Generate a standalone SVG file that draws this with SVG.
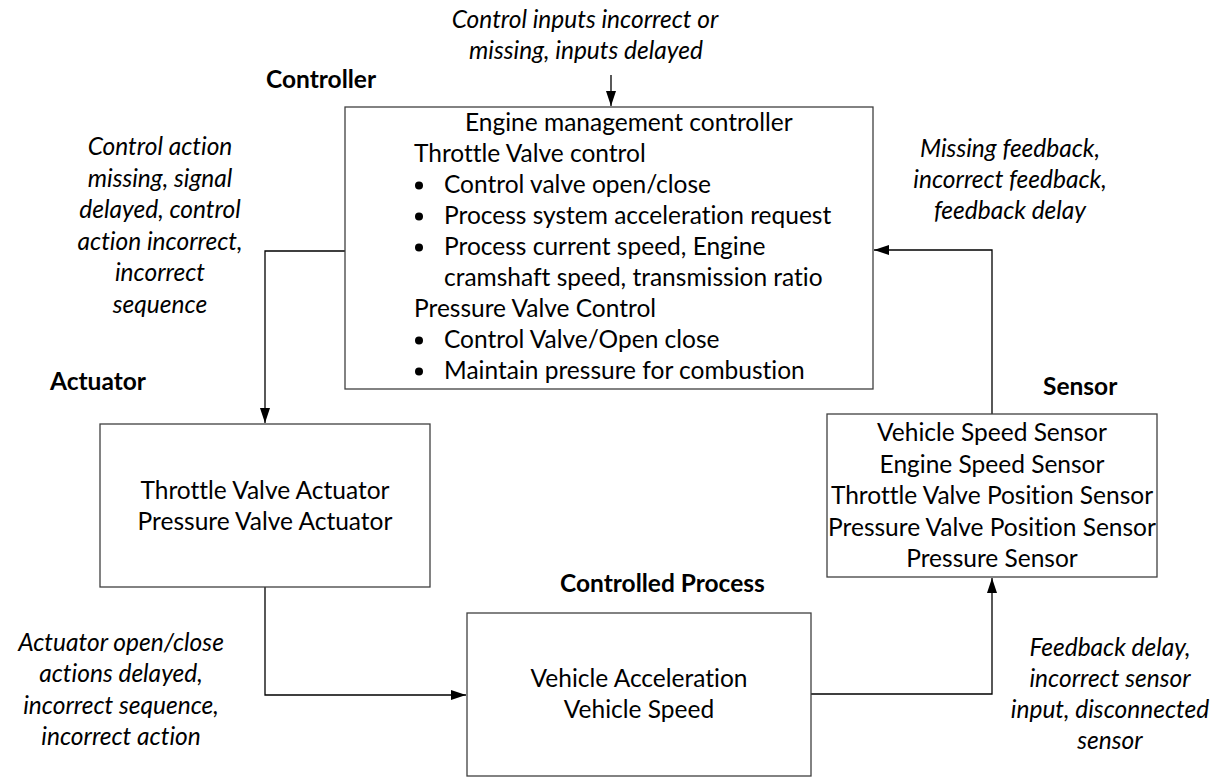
<svg xmlns="http://www.w3.org/2000/svg" width="1217" height="777" viewBox="0 0 1217 777">
<style>
text{font-family:Lato,"Liberation Sans",sans-serif;font-size:24.5px;fill:#000;font-variant-ligatures:none}
.b{font-weight:bold}
.i{font-style:italic}
.m{text-anchor:middle}
.box{fill:#fff;stroke:#404040;stroke-width:1.3}
.con{fill:none;stroke:#000;stroke-width:1.3}
.bul{fill:#000}
</style>
<defs>
<marker id="ah" markerUnits="userSpaceOnUse" markerWidth="16" markerHeight="11" refX="15" refY="5" orient="auto">
<path d="M0,0 L15,5 L0,10 z" fill="#000"/>
</marker>
</defs>
<rect width="1217" height="777" fill="#fff"/>

<g id="connectors">
<path class="con" d="M611,75 V106" marker-end="url(#ah)"/>
<path class="con" d="M345,251 H265 V423" marker-end="url(#ah)"/>
<path class="con" d="M265,587 V695 H466" marker-end="url(#ah)"/>
<path class="con" d="M811,694 H992 V578" marker-end="url(#ah)"/>
<path class="con" d="M992,414 V250 H874" marker-end="url(#ah)"/>
</g>

<g id="labels">
<text class="i m" x="585" y="28">Control inputs incorrect or</text>
<text class="i m" x="586" y="59">missing, inputs delayed</text>
<text class="i m" x="160" y="155">Control action</text>
<text class="i m" x="160" y="186.6">missing, signal</text>
<text class="i m" x="160" y="218.2">delayed, control</text>
<text class="i m" x="160" y="249.8">action incorrect,</text>
<text class="i m" x="160" y="281.4">incorrect</text>
<text class="i m" x="160" y="313">sequence</text>
<text class="i m" x="1010" y="157">Missing feedback,</text>
<text class="i m" x="1010" y="188">incorrect feedback,</text>
<text class="i m" x="1010" y="219">feedback delay</text>
<text class="i m" x="121" y="650.5">Actuator open/close</text>
<text class="i m" x="121" y="682">actions delayed,</text>
<text class="i m" x="121" y="713.5">incorrect sequence,</text>
<text class="i m" x="121" y="745">incorrect action</text>
<text class="i m" x="1110" y="655.5">Feedback delay,</text>
<text class="i m" x="1110" y="686.5">incorrect sensor</text>
<text class="i m" x="1110" y="717.5">input, disconnected</text>
<text class="i m" x="1110" y="748.5">sensor</text>
</g>

<g id="controller">
<text class="b" x="266" y="88">Controller</text>
<rect class="box" x="345" y="107" width="528" height="282"/>
<text x="465" y="131">Engine management controller</text>
<text x="414" y="162">Throttle Valve control</text>
<circle class="bul" cx="419" cy="185.5" r="4"/>
<text x="444" y="193">Control valve open/close</text>
<circle class="bul" cx="419" cy="216.5" r="4"/>
<text x="444" y="224">Process system acceleration request</text>
<circle class="bul" cx="419" cy="247.5" r="4"/>
<text x="444" y="255">Process current speed, Engine</text>
<text x="444" y="286">cramshaft speed, transmission ratio</text>
<text x="414" y="317">Pressure Valve Control</text>
<circle class="bul" cx="419" cy="340.5" r="4"/>
<text x="444" y="348">Control Valve/Open close</text>
<circle class="bul" cx="419" cy="371.5" r="4"/>
<text x="444" y="379">Maintain pressure for combustion</text>
</g>

<g id="actuator">
<text class="b" x="50" y="390">Actuator</text>
<rect class="box" x="100" y="424" width="330" height="163"/>
<text class="m" x="265" y="499">Throttle Valve Actuator</text>
<text class="m" x="265" y="530">Pressure Valve Actuator</text>
</g>

<g id="process">
<text class="b" x="560" y="592">Controlled Process</text>
<rect class="box" x="467" y="613" width="344" height="163"/>
<text class="m" x="639" y="687">Vehicle Acceleration</text>
<text class="m" x="639" y="718">Vehicle Speed</text>
</g>

<g id="sensor">
<text class="b" x="1043" y="395">Sensor</text>
<rect class="box" x="827" y="414" width="330" height="163"/>
<text class="m" x="992" y="441">Vehicle Speed Sensor</text>
<text class="m" x="992" y="472.5">Engine Speed Sensor</text>
<text class="m" x="992" y="504">Throttle Valve Position Sensor</text>
<text class="m" x="992" y="535.5">Pressure Valve Position Sensor</text>
<text class="m" x="992" y="567">Pressure Sensor</text>
</g>
</svg>
